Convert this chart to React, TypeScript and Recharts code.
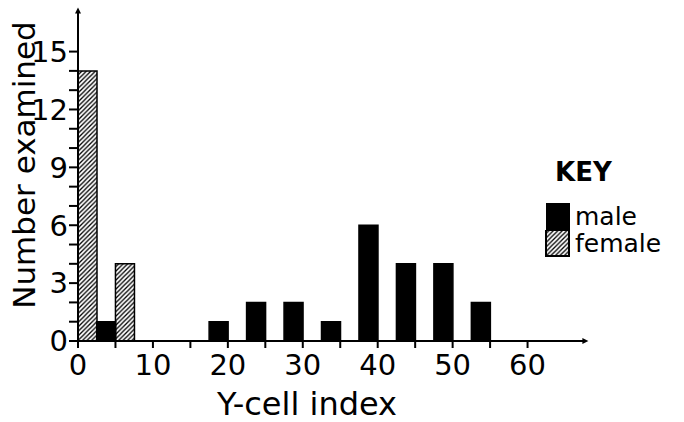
import { Bar, BarChart, Label, XAxis, YAxis } from 'recharts'

// bins are 2.5 units wide, keyed by their centre
const BIN_CENTRES = [
  1.25, 3.75, 6.25, 8.75, 11.25, 13.75, 16.25, 18.75, 21.25, 23.75, 26.25, 28.75, 31.25,
  33.75, 36.25, 38.75, 41.25, 43.75, 46.25, 48.75, 51.25, 53.75, 56.25, 58.75, 61.25, 63.75,
]
const MALE = [
  null, 1, null, null, null, null, null, 1, null, 2, null, 2, null,
  1, null, 6, null, 4, null, 4, null, 2, null, null, null, null,
]
const FEMALE = [
  14, null, 4, null, null, null, null, null, null, null, null, null, null,
  null, null, null, null, null, null, null, null, null, null, null, null, null,
]
const X_TICKS = [0, 5, 10, 15, 20, 25, 30, 35, 40, 45, 50, 55, 60]
const Y_TICKS = [0, 1, 2, 3, 4, 5, 6, 7, 8, 9, 10, 11, 12, 13, 14, 15]
const SERIES = [
  { key: 'male', label: 'male', fill: '#000' },
  { key: 'female', label: 'female', fill: 'url(#hatch)' },
]

const FONT = '"DejaVu Sans", Verdana, sans-serif'
const HATCH_PATH = 'M-1,1 l2,-2 M0,4.5 l4.5,-4.5 M3.5,5.5 l2,-2'

const data = BIN_CENTRES.map((x, i) => ({ x, male: MALE[i], female: FEMALE[i] }))

function HatchSwatch() {
  return (
    <svg width={25} height={27} style={{ display: 'block' }}>
      <defs>
        <pattern id="hatchKey" patternUnits="userSpaceOnUse" width={4.5} height={4.5}>
          <path d={HATCH_PATH} stroke="#000" strokeWidth={1.3} />
        </pattern>
      </defs>
      <rect x={1} y={0} width={23} height={26} fill="url(#hatchKey)" stroke="#000" strokeWidth={2} />
    </svg>
  )
}

function Key() {
  return (
    <div style={{ position: 'absolute', left: 545, top: 157, fontFamily: FONT, color: '#000' }}>
      <div style={{ fontSize: 26, fontWeight: 'bold', marginLeft: 10, lineHeight: '30px' }}>KEY</div>
      <div style={{ marginTop: 16 }}>
        {SERIES.map((s) => (
          <div key={s.key} style={{ display: 'flex', alignItems: 'center', height: 27 }}>
            {s.key === 'male' ? (
              <div style={{ width: 24, height: 27, background: '#000', marginLeft: 1 }} />
            ) : (
              <HatchSwatch />
            )}
            <span style={{ fontSize: 25, marginLeft: 5, lineHeight: '27px' }}>{s.label}</span>
          </div>
        ))}
      </div>
    </div>
  )
}

export default function App() {
  return (
    <div style={{ position: 'absolute', left: 0, top: 0, width: 684, height: 422, background: '#fff' }}>
      <BarChart
        width={684}
        height={422}
        data={data}
        margin={{ top: 13, right: 101, bottom: 0, left: 0 }}
        barCategoryGap={0}
        barGap={0}
        style={{ fontFamily: FONT }}
      >
        <defs>
          <pattern id="hatch" patternUnits="userSpaceOnUse" width={4.5} height={4.5}>
            <path d={HATCH_PATH} stroke="#000" strokeWidth={1.3} />
          </pattern>
          <marker
            id="arrowHead"
            viewBox="0 0 10 10"
            refX={1}
            refY={5}
            markerWidth={10}
            markerHeight={6}
            markerUnits="userSpaceOnUse"
            orient="auto-start-reverse"
          >
            <path d="M0,0 L10,5 L0,10 z" fill="#000" />
          </marker>
        </defs>
        <XAxis
          dataKey="x"
          type="number"
          domain={[0, 67.4]}
          allowDataOverflow
          ticks={X_TICKS}
          interval={0}
          height={81}
          tickSize={7}
          tickMargin={6}
          tickFormatter={(v: number) => (v % 10 === 0 ? String(v) : '')}
          tick={{ fill: '#000', fontSize: 29 }}
          tickLine={{ stroke: '#000', strokeWidth: 2 }}
          axisLine={{ stroke: '#000', strokeWidth: 2, markerEnd: 'url(#arrowHead)' }}
        >
          <Label
            content={({ viewBox }: any) => (
              <text
                x={viewBox.x + 229}
                y={viewBox.y + 74}
                textAnchor="middle"
                fontSize={32}
                fill="#000"
                fontFamily={FONT}
              >
                Y-cell index
              </text>
            )}
          />
        </XAxis>
        <YAxis
          type="number"
          domain={[0, 17]}
          allowDataOverflow
          ticks={Y_TICKS}
          interval={0}
          width={78}
          tickSize={9}
          tickMargin={1}
          tickFormatter={(v: number) => (v % 3 === 0 ? String(v) : '')}
          tick={{ fill: '#000', fontSize: 29 }}
          tickLine={{ stroke: '#000', strokeWidth: 2 }}
          axisLine={{ stroke: '#000', strokeWidth: 2, markerStart: 'url(#arrowHead)' }}
        >
          <Label
            content={({ viewBox }: any) => (
              <text
                x={0}
                y={0}
                transform={`translate(${viewBox.x + 35},${viewBox.y + 152}) rotate(-90)`}
                textAnchor="middle"
                fontSize={31}
                fill="#000"
                fontFamily={FONT}
              >
                Number examined
              </text>
            )}
          />
        </YAxis>
        {SERIES.map((s) => (
          <Bar
            key={s.key}
            dataKey={s.key}
            name={s.label}
            stackId="bins"
            fill={s.fill}
            stroke="#000"
            strokeWidth={1.5}
            isAnimationActive={false}
          />
        ))}
      </BarChart>
      <Key />
    </div>
  )
}
